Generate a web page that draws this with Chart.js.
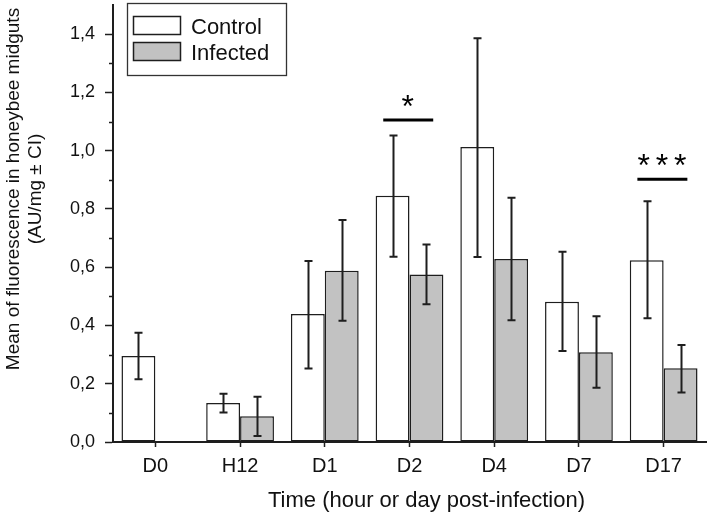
<!DOCTYPE html>
<html><head><meta charset="utf-8">
<script src="https://cdn.jsdelivr.net/npm/chart.js@4.4.1/dist/chart.umd.min.js"></script>
<style>html,body{margin:0;padding:0;background:#fff}#wrap{width:709px;height:514px;position:relative}</style>
</head><body><div id="wrap"><canvas id="c" width="709" height="514"></canvas></div>
<script>
// ---- data ----
const categories = ['D0', 'H12', 'D1', 'D2', 'D4', 'D7', 'D17'];
const seriesNames = ['Control', 'Infected'];
const controlMean = [0.295, 0.134, 0.439, 0.845, 1.013, 0.481, 0.624];
const controlLow  = [0.215, 0.101, 0.252, 0.636, 0.635, 0.312, 0.425];
const controlHigh = [0.375, 0.166, 0.621, 1.052, 1.386, 0.653, 0.826];
const infectedMean = [null, 0.088, 0.588, 0.575, 0.628, 0.308, 0.253];
const infectedLow  = [null, 0.021, 0.416, 0.473, 0.418, 0.186, 0.170];
const infectedHigh = [null, 0.155, 0.762, 0.678, 0.838, 0.432, 0.333];
const yMajorTicks = [0, 0.2, 0.4, 0.6, 0.8, 1.0, 1.2, 1.4];
const yMinorTicks = [0.1, 0.3, 0.5, 0.7, 0.9, 1.1, 1.3];
const sigCategories = ['D2', 'D17'];
const sigLabels = ['*', '***'];
const sigLevels = [1.105, 0.902];
const xTitle = 'Time (hour or day post-infection)';
const yTitleLines = ['Mean of fluorescence in honeybee midguts', '(AU/mg \u00b1 CI)'];

const INK = '#1e1e1e';
const FONT = '"Liberation Sans", Arial, Helvetica, sans-serif';
const lows = [controlLow, infectedLow];
const highs = [controlHigh, infectedHigh];

const fmt = v => v.toFixed(1).replace('.', ',');

const decorPlugin = {
  id: 'decor',
  afterDatasetsDraw(chart) {
    const ctx = chart.ctx, y = chart.scales.y;
    ctx.save();
    ctx.strokeStyle = INK; ctx.lineWidth = 2;
    chart.data.datasets.forEach((ds, di) => {
      const meta = chart.getDatasetMeta(di);
      meta.data.forEach((bar, i) => {
        if (ds.data[i] == null) return;
        const x = Math.round(bar.x) + 0.5;
        const yl = y.getPixelForValue(lows[di][i]);
        const yh = y.getPixelForValue(highs[di][i]);
        ctx.beginPath();
        ctx.moveTo(x, yl); ctx.lineTo(x, yh);
        ctx.moveTo(x - 4, yl); ctx.lineTo(x + 4, yl);
        ctx.moveTo(x - 4, yh); ctx.lineTo(x + 4, yh);
        ctx.stroke();
      });
    });
    ctx.restore();
  },
  afterDraw(chart) {
    const ctx = chart.ctx, xs = chart.scales.x, ys = chart.scales.y;
    const area = chart.chartArea;
    ctx.save();
    // minor y ticks
    ctx.strokeStyle = INK; ctx.lineWidth = 1.5;
    yMinorTicks.forEach(v => {
      const py = Math.round(ys.getPixelForValue(v)) + 0.5;
      ctx.beginPath(); ctx.moveTo(area.left - 4, py); ctx.lineTo(area.left, py); ctx.stroke();
    });
    // significance
    const cw = (xs.getPixelForValue(1) - xs.getPixelForValue(0));
    sigCategories.forEach((c, k) => {
      const cx = xs.getPixelForValue(categories.indexOf(c));
      const py = ys.getPixelForValue(sigLevels[k]);
      ctx.lineWidth = 3; ctx.strokeStyle = '#000';
      ctx.beginPath(); ctx.moveTo(cx - 0.31 * cw, py); ctx.lineTo(cx + 0.28 * cw, py); ctx.stroke();
      const n = sigLabels[k].length;
      ctx.fillStyle = '#000';
      ctx.font = '32px ' + FONT;
      ctx.textAlign = 'center'; ctx.textBaseline = 'alphabetic';
      const mid = cx - 0.02 * cw;
      for (let s = 0; s < n; s++) {
        const sx = mid + (s - (n - 1) / 2) * 18.3;
        ctx.fillText('*', sx, py - 3);
      }
    });
    // legend
    const lx = area.left + 14.5, ly = 3.5;
    ctx.lineWidth = 1.3; ctx.strokeStyle = '#333';
    ctx.strokeRect(lx, ly, 159, 72);
    chart.data.datasets.forEach((ds, di) => {
      const sy = 16.5 + di * 26;
      ctx.fillStyle = ds.backgroundColor;
      ctx.fillRect(lx + 6, sy, 47, 18);
      ctx.lineWidth = 1.5; ctx.strokeStyle = INK;
      ctx.strokeRect(lx + 6, sy, 47, 18);
      ctx.fillStyle = '#111';
      ctx.font = '22px ' + FONT;
      ctx.textAlign = 'left'; ctx.textBaseline = 'alphabetic';
      ctx.fillText(ds.label, lx + 63.5, sy + 17);
    });
    // x title
    ctx.fillStyle = '#111';
    ctx.font = '22px ' + FONT;
    ctx.textAlign = 'center'; ctx.textBaseline = 'alphabetic';
    ctx.fillText(xTitle, (area.left + area.right) / 2 + 17, 507);
    // y title
    ctx.font = '19px ' + FONT;
    ctx.translate(0, 189);
    ctx.rotate(-Math.PI / 2);
    yTitleLines.forEach((t, i) => {
      ctx.fillText(t, 0, 19 + i * 22);
    });
    ctx.restore();
  }
};

new Chart(document.getElementById('c'), {
  type: 'bar',
  data: {
    labels: categories,
    datasets: [
      { label: seriesNames[0], data: controlMean, backgroundColor: '#ffffff', borderColor: INK, borderWidth: 1.5, borderSkipped: false, categoryPercentage: 0.8, barPercentage: 1.0 },
      { label: seriesNames[1], data: infectedMean, backgroundColor: '#c2c2c2', borderColor: INK, borderWidth: 1.5, borderSkipped: false, categoryPercentage: 0.8, barPercentage: 1.0 }
    ]
  },
  options: {
    responsive: false,
    devicePixelRatio: 1,
    animation: false,
    layout: { padding: { top: 5, right: 3, left: 0, bottom: 0 } },
    plugins: { legend: { display: false }, tooltip: { enabled: false } },
    scales: {
      x: {
        offset: true,
        grid: { display: true, drawOnChartArea: false, offset: false, tickLength: 5, tickColor: INK, tickWidth: 1.5, color: INK },
        border: { display: true, color: INK, width: 2 },
        ticks: { color: '#111', font: { size: 20, family: FONT }, padding: 7, maxRotation: 0, autoSkip: false },
        afterFit(s) { s.height = 72; s.paddingLeft = 0; s.paddingRight = 0; }
      },
      y: {
        min: 0, max: 1.5,
        grid: { display: true, drawOnChartArea: false, tickLength: 8, tickColor: INK, tickWidth: 1.5, color: INK },
        border: { display: true, color: INK, width: 2 },
        afterBuildTicks(s) { s.ticks = yMajorTicks.map(v => ({ value: v })); },
        ticks: { color: '#111', font: { size: 18, family: FONT }, padding: 10, callback: v => fmt(v) },
        afterFit(s) { s.width = 113; s.paddingTop = 0; s.paddingBottom = 0; }
      }
    }
  },
  plugins: [decorPlugin]
});
</script></body></html>
